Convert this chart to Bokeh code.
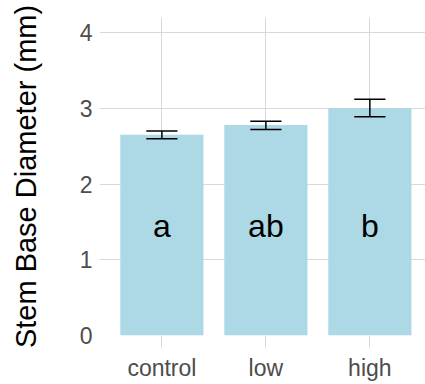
from bokeh.plotting import figure
from bokeh.models import ColumnDataSource, Range1d, FixedTicker
from bokeh.core.properties import value
from bokeh.embed import file_html
from bokeh.resources import INLINE

categories = ["control", "low", "high"]
means = [2.65, 2.78, 3.00]
lower = [2.60, 2.72, 2.89]
upper = [2.70, 2.83, 3.12]
letters = ["a", "ab", "b"]
letter_y = [1.45, 1.45, 1.45]
y_ticks = [0, 1, 2, 3, 4]

xs = [i + 1 for i in range(len(categories))]
cap = 0.15
src = ColumnDataSource(dict(
    x=xs, top=means, lo=lower, hi=upper,
    cl=[x - cap for x in xs], cr=[x + cap for x in xs],
    lab=letters, ly=letter_y,
))

FONT = "Liberation Sans"

p = figure(width=425, height=384, output_backend="svg", toolbar_location=None,
           x_range=Range1d(0.4, 3.535), y_range=Range1d(0, 4.2),
           min_border_left=99, min_border_right=0, min_border_top=17, min_border_bottom=49)
p.outline_line_color = None
p.background_fill_color = "white"

p.vbar(x="x", top="top", width=0.8, bottom=0, source=src, fill_color="#ADD8E6", line_color=None)
p.segment(x0="x", x1="x", y0="lo", y1="hi", source=src, line_color="black", line_width=1.5)
p.segment(x0="cl", x1="cr", y0="lo", y1="lo", source=src, line_color="black", line_width=1.5)
p.segment(x0="cl", x1="cr", y0="hi", y1="hi", source=src, line_color="black", line_width=1.5)
p.text(x="x", y="ly", text="lab", source=src, text_align="center", text_baseline="middle",
       text_font=value(FONT), text_font_size="32px", text_color="black")

grid_col = "#d9d9d9"
p.xgrid.grid_line_color = grid_col
p.ygrid.grid_line_color = grid_col
p.xgrid.ticker = FixedTicker(ticks=xs)
p.ygrid.ticker = FixedTicker(ticks=y_ticks)

xa = p.xaxis[0]
xa.ticker = FixedTicker(ticks=xs)
xa.major_label_overrides = {x: c for x, c in zip(xs, categories)}
xa.axis_line_color = None
xa.major_tick_in = 0
xa.major_tick_out = 13
xa.major_tick_line_color = grid_col
xa.minor_tick_line_color = None
xa.major_label_text_font = FONT
xa.major_label_text_font_size = "23px"
xa.major_label_text_color = "#4D4D4D"
xa.major_label_standoff = 6

ya = p.yaxis[0]
ya.ticker = FixedTicker(ticks=y_ticks)
ya.axis_line_color = None
ya.major_tick_line_color = None
ya.minor_tick_line_color = None
ya.major_tick_in = 0
ya.major_tick_out = 0
ya.major_label_text_font = FONT
ya.major_label_text_font_size = "23px"
ya.major_label_text_color = "#4D4D4D"
ya.major_label_standoff = 7
ya.axis_label = "Stem Base Diameter (mm)"
ya.axis_label_text_font = FONT
ya.axis_label_text_font_size = "29px"
ya.axis_label_text_font_style = "normal"
ya.axis_label_text_color = "black"
ya.axis_label_standoff = 35

open("out.html", "w").write(file_html(p, INLINE))
